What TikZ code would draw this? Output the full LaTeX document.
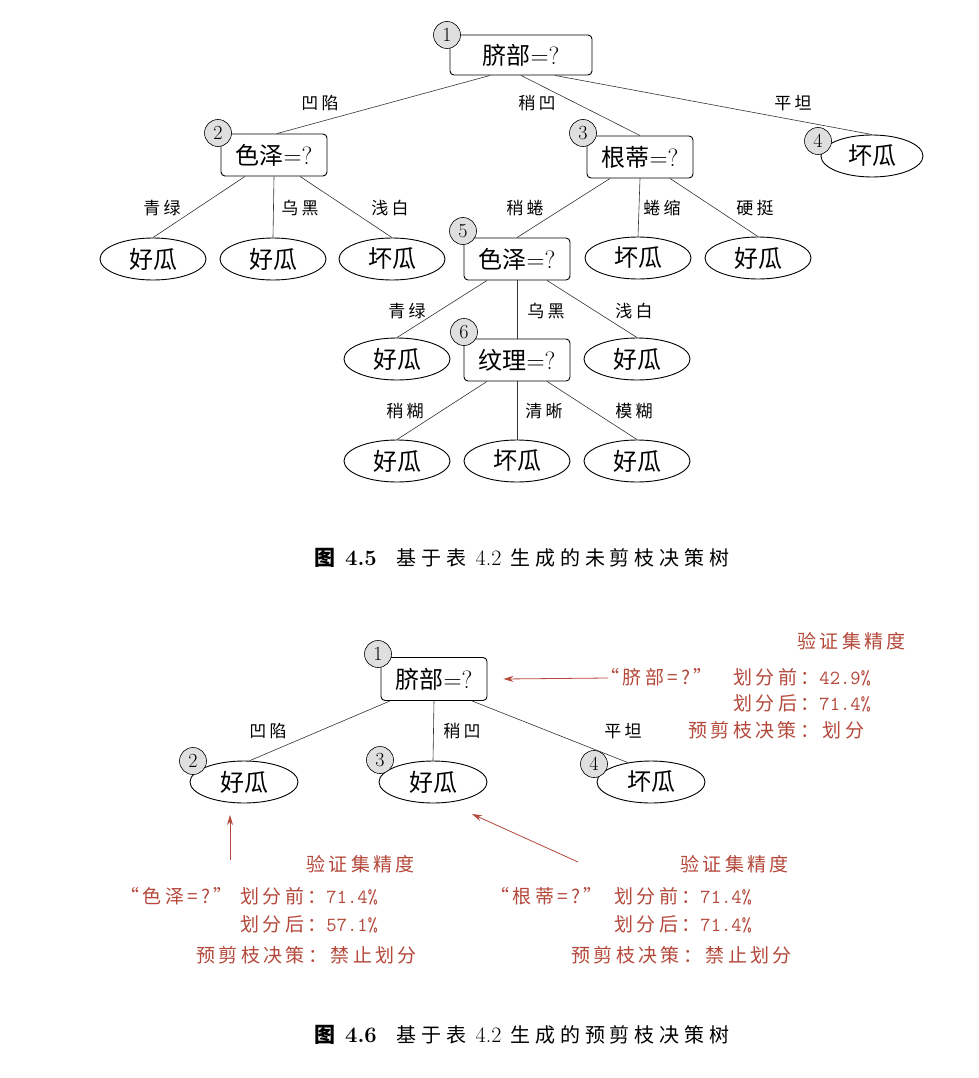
\documentclass[tikz,border=0pt]{standalone}
\usepackage{fontspec}
\newfontfamily\cjk{Noto Sans CJK SC}
\newfontfamily\cjkl{Noto Sans CJK SC}[LetterSpace=18]
\newfontfamily\cjkc{Noto Sans CJK SC}[LetterSpace=24]
\usetikzlibrary{arrows.meta,shapes.geometric}
\definecolor{annred}{RGB}{180,72,58}
\newcommand\eqq{{\rmfamily\fontsize{25}{26}\selectfont =?}}
\newcommand\nummono[1]{{\ttfamily\fontsize{20}{21}\selectfont #1}}
\newcommand\numrm[1]{{\rmfamily\fontsize{22}{23}\selectfont #1}}
\begin{document}
\begin{tikzpicture}[x=1pt,y=-1pt,
 box/.style={draw, rounded corners=4pt, line width=0.9pt, minimum width=106pt, minimum height=42pt, inner sep=0pt, font=\cjk\fontsize{24}{26}\selectfont},
 leaf/.style={draw, ellipse, line width=0.9pt, minimum width=106pt, minimum height=42pt, inner sep=0pt, font=\cjk\fontsize{24}{26}\selectfont},
 badge/.style={draw, circle, fill=gray!25, minimum size=27pt, inner sep=0pt, font=\rmfamily\fontsize{20}{20}\selectfont, line width=0.6pt},
 edgeln/.style={line width=0.6pt, draw=black!80},
 elabel/.style={font=\cjkl\fontsize{17}{18}\selectfont, inner sep=0pt},
 ann/.style={text=annred, font=\cjkl\fontsize{19}{20}\selectfont, inner sep=0pt, anchor=west},
 annarrow/.style={draw=annred, line width=0.8pt, -{Stealth[length=10pt,width=6pt]}},
 caption/.style={font=\cjkc\fontsize{20}{22}\selectfont, inner sep=0pt},
]
\fill[white] (0,0) rectangle (978,1078);
\useasboundingbox (0,0) rectangle (978,1078);

% ---------- top tree ----------
\node[box, minimum width=142pt, minimum height=40pt] (n1) at (521,55) {脐部\eqq};
\node[box] (n2) at (274,155) {色泽\eqq};
\node[box] (n3) at (640,157) {根蒂\eqq};
\node[leaf, minimum width=102pt] (l4) at (872,156) {坏瓜};
\node[leaf] (la) at (153,259) {好瓜};
\node[leaf] (lb) at (273,259) {好瓜};
\node[leaf] (lc) at (392,259) {坏瓜};
\node[box] (n5) at (517,259) {色泽\eqq};
\node[leaf] (ld) at (638,258) {坏瓜};
\node[leaf] (le) at (758,258) {好瓜};
\node[leaf] (lf) at (397,359) {好瓜};
\node[box] (n6) at (517,360) {纹理\eqq};
\node[leaf] (lg) at (637,359) {好瓜};
\node[leaf] (lh) at (397,461) {好瓜};
\node[leaf] (li) at (517,461) {坏瓜};
\node[leaf] (lj) at (637,461) {好瓜};

\draw[edgeln] ([xshift=-31pt]n1.south) -- ([xshift=3pt]n2.north);
\draw[edgeln] (n1.south) -- (n3.north);
\draw[edgeln] ([xshift=34pt]n1.south) -- (l4.north);
\draw[edgeln] ([xshift=-29pt]n2.south) -- (la.north);
\draw[edgeln] (n2.south) -- (lb.north);
\draw[edgeln] ([xshift=26pt]n2.south) -- (lc.north);
\draw[edgeln] ([xshift=-30pt]n3.south) -- (n5.north);
\draw[edgeln] (n3.south) -- (ld.north);
\draw[edgeln] ([xshift=30pt]n3.south) -- (le.north);
\draw[edgeln] ([xshift=-30pt]n5.south) -- (lf.north);
\draw[edgeln] (n5.south) -- (n6.north);
\draw[edgeln] ([xshift=30pt]n5.south) -- (lg.north);
\draw[edgeln] ([xshift=-30pt]n6.south) -- (lh.north);
\draw[edgeln] (n6.south) -- (li.north);
\draw[edgeln] ([xshift=30pt]n6.south) -- (lj.north);

\node[elabel] (e1) at (320,103) {凹陷};
\node[elabel] (e2) at (537,103) {稍凹};
\node[elabel] (e3) at (793,103) {平坦};
\node[elabel] (e4) at (162,208) {青绿};
\node[elabel] (e5) at (300,208) {乌黑};
\node[elabel] (e6) at (390,208) {浅白};
\node[elabel] (e7) at (525,208) {稍蜷};
\node[elabel] (e8) at (662,208) {蜷缩};
\node[elabel] (e9) at (755,208) {硬挺};
\node[elabel] (e10) at (407,311) {青绿};
\node[elabel] (e11) at (546,311) {乌黑};
\node[elabel] (e12) at (634,311) {浅白};
\node[elabel] (e13) at (405,411) {稍糊};
\node[elabel] (e14) at (544,411) {清晰};
\node[elabel] (e15) at (634,411) {模糊};

\node[badge] (b1) at (447,35) {1};
\node[badge] (b2) at (218,133) {2};
\node[badge] (b3) at (583,133) {3};
\node[badge] (b4) at (818,141) {4};
\node[badge] (b5) at (463,231) {5};
\node[badge] (b6) at (464,332) {6};

\node[caption] (cap1) at (522,558) {{\cjk\bfseries\fontsize{21}{22}\selectfont 图} {\rmfamily\bfseries\fontsize{22}{23}\selectfont 4.5}\quad 基于表 \numrm{4.2} 生成的未剪枝决策树};

% ---------- bottom tree ----------
\node[box, minimum height=43pt] (m1) at (434,679) {脐部\eqq};
\node[leaf, minimum width=108pt] (k2) at (244,782) {好瓜};
\node[leaf, minimum width=108pt] (k3) at (433,782) {好瓜};
\node[leaf, minimum width=108pt] (k4) at (651,782) {坏瓜};

\draw[edgeln] ([xshift=-44pt]m1.south) -- ([xshift=6pt]k2.north);
\draw[edgeln] (m1.south) -- (k3.north);
\draw[edgeln] ([xshift=38pt]m1.south) -- (k4.140);

\node[elabel] (f1) at (268,731) {凹陷};
\node[elabel] (f2) at (462,731) {稍凹};
\node[elabel] (f3) at (623,731) {平坦};

\node[badge] (c1) at (378,654) {1};
\node[badge] (c2) at (193,761) {2};
\node[badge] (c3) at (380,760) {3};
\node[badge] (c4) at (594,764) {4};

% annotations
\node[ann] (r1) at (797,641) {验证集精度};
\node[ann] (r2) at (600,677) {“脐部=?”};
\node[ann] (r3) at (733,677) {划分前：\nummono{42.9\%}};
\node[ann] (r4) at (733,703) {划分后：\nummono{71.4\%}};
\node[ann] (r5) at (688,730) {预剪枝决策：划分};
\coordinate (a1s) at (608,678);
\draw[annarrow] (a1s) -- ([xshift=16pt]m1.east);

\node[ann] (s1) at (306,864) {验证集精度};
\node[ann] (s2) at (120,896) {“色泽=?”};
\node[ann] (s3) at (240,896) {划分前：\nummono{71.4\%}};
\node[ann] (s4) at (240,924) {划分后：\nummono{57.1\%}};
\node[ann] (s5) at (196,955) {预剪枝决策：禁止划分};
\coordinate (a2s) at (230,860);
\coordinate (a2e) at (230,815);
\draw[annarrow] (a2s) -- (a2e);

\node[ann] (t1) at (680,864) {验证集精度};
\node[ann] (t2) at (490,896) {“根蒂=?”};
\node[ann] (t3) at (614,896) {划分前：\nummono{71.4\%}};
\node[ann] (t4) at (614,924) {划分后：\nummono{71.4\%}};
\node[ann] (t5) at (571,955) {预剪枝决策：禁止划分};
\coordinate (a3s) at (578,862);
\coordinate (a3e) at (472,814);
\draw[annarrow] (a3s) -- (a3e);

\node[caption] (cap2) at (522,1035) {{\cjk\bfseries\fontsize{21}{22}\selectfont 图} {\rmfamily\bfseries\fontsize{22}{23}\selectfont 4.6}\quad 基于表 \numrm{4.2} 生成的预剪枝决策树};
\end{tikzpicture}
\end{document}
